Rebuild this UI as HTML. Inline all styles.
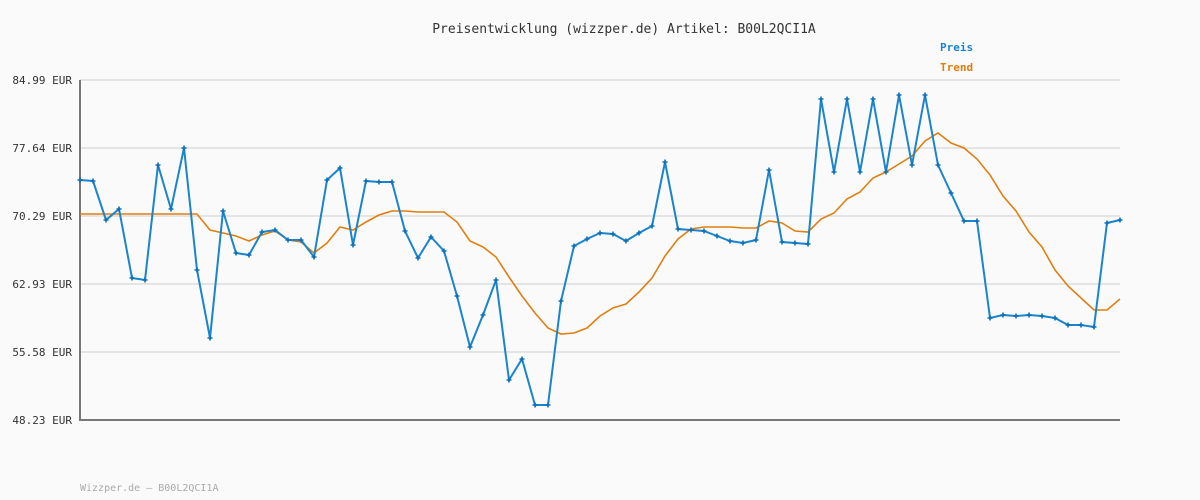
<!DOCTYPE html>
<html><head><meta charset="utf-8"><style>
html,body{margin:0;padding:0;background:#fafafa;}
svg{display:block;font-family:"DejaVu Sans Mono","Liberation Mono",monospace;}
</style></head><body>
<svg width="1200" height="500" viewBox="0 0 1200 500">
<defs>
<marker id="m" markerUnits="userSpaceOnUse" markerWidth="8" markerHeight="8" refX="4" refY="4" viewBox="0 0 8 8">
<path d="M4 1.5V6.5M1.5 4H6.5" stroke="#0d6fb8" stroke-width="1.6"/>
</marker>
</defs>
<rect width="1200" height="500" fill="#fafafa"/>
<text x="624" y="33" text-anchor="middle" font-size="13" fill="#333">Preisentwicklung (wizzper.de) Artikel: B00L2QCI1A</text>
<text x="940" y="51" font-size="11" font-weight="bold" fill="#1a84cc">Preis</text>
<text x="940" y="71" font-size="11" font-weight="bold" fill="#e07f10">Trend</text>
<g stroke="#e4e4e4" stroke-width="2">
<line x1="80" y1="80" x2="1120" y2="80"/><line x1="80" y1="148" x2="1120" y2="148"/><line x1="80" y1="216" x2="1120" y2="216"/><line x1="80" y1="284" x2="1120" y2="284"/><line x1="80" y1="352" x2="1120" y2="352"/>
</g>
<g font-size="11" fill="#333" text-anchor="end">
<text x="72" y="84">84.99 EUR</text><text x="72" y="152">77.64 EUR</text><text x="72" y="220">70.29 EUR</text><text x="72" y="288">62.93 EUR</text><text x="72" y="356">55.58 EUR</text><text x="72" y="424">48.23 EUR</text>
</g>
<line x1="80" y1="80" x2="80" y2="420" stroke="#777" stroke-width="2"/>
<line x1="79" y1="420" x2="1120" y2="420" stroke="#777" stroke-width="2"/>
<polyline fill="none" stroke="#e07f10" stroke-width="1.6" points="80,214 197,214 210,230 223,233 236,236 249,241 262,235 275,231 288,240 301,242 314,253 327,243 340,227 353,230 366,222 379,215 392,211 405,211 418,212 431,212 444,212 457,222 470,241 483,247 496,257 509,277 522,296 535,313 548,328 561,334 574,333 587,328 600,316 613,308 626,304 639,292 652,278 665,256 678,239 691,229 704,227 717,227 730,227 743,228 756,228 769,221 782,223 795,231 808,232 821,219 834,213 847,199 860,192 873,178 886,172 899,164 912,156 925,141 938,133 951,143 964,148 977,159 990,175 1003,196 1016,211 1029,232 1042,247 1055,270 1068,286 1081,298 1094,310 1107,310 1120,299"/>
<polyline fill="none" stroke="#1a84cc" stroke-width="2" marker-start="url(#m)" marker-mid="url(#m)" marker-end="url(#m)" points="80,180 93,181 106,220 119,209 132,278 145,280 158,165 171,209 184,148 197,270 210,338 223,211 236,253 249,255 262,232 275,230 288,240 301,240 314,257 327,180 340,168 353,245 366,181 379,182 392,182 405,231 418,258 431,237 444,251 457,296 470,347 483,315 496,280 509,380 522,359 535,405 548,405 561,301 574,246 587,239 600,233 613,234 626,241 639,233 652,226 665,162 678,229 691,230 704,231 717,236 730,241 743,243 756,240 769,170 782,242 795,243 808,244 821,99 834,172 847,99 860,172 873,99 886,172 899,95 912,165 925,95 938,165 951,193 964,221 977,221 990,318 1003,315 1016,316 1029,315 1042,316 1055,318 1068,325 1081,325 1094,327 1107,223 1120,220"/>
<text x="80" y="491" font-size="10" fill="#aaa">Wizzper.de – B00L2QCI1A</text>
</svg>
</body></html>
